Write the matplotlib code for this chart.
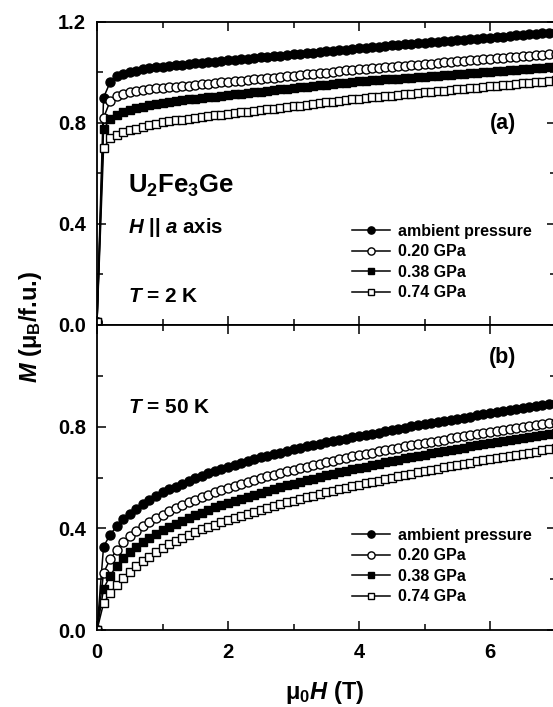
import matplotlib
matplotlib.use("Agg")
import matplotlib.pyplot as plt
import numpy as np

plt.rcParams['font.family'] = ['Liberation Sans', 'DejaVu Sans']
plt.rcParams['font.weight'] = 'bold'
plt.rcParams['mathtext.fontset'] = 'custom'
plt.rcParams['mathtext.rm'] = 'Liberation Sans:bold'
plt.rcParams['mathtext.bf'] = 'Liberation Sans:bold'
plt.rcParams['mathtext.it'] = 'Liberation Sans:italic:bold'

# magnetic field grid, 0 ... 7 T in 0.1 T steps
field = np.round(np.arange(71) * 0.1, 1)

labels = ['ambient pressure', '0.20 GPa', '0.38 GPa', '0.74 GPa']

# (a) T = 2 K
m2_amb = [0.010, 0.900, 0.960, 0.985, 0.993, 1.000, 1.006, 1.011, 1.015, 1.019, 1.022,
          1.025, 1.028, 1.030, 1.032, 1.035, 1.037, 1.040, 1.042, 1.044, 1.047,
          1.049, 1.052, 1.054, 1.057, 1.059, 1.061, 1.064, 1.066, 1.069, 1.071,
          1.073, 1.076, 1.078, 1.081, 1.083, 1.085, 1.088, 1.090, 1.093, 1.095,
          1.097, 1.099, 1.101, 1.104, 1.106, 1.108, 1.110, 1.112, 1.114, 1.116,
          1.118, 1.120, 1.122, 1.125, 1.127, 1.129, 1.131, 1.133, 1.135, 1.137,
          1.139, 1.141, 1.143, 1.146, 1.148, 1.150, 1.152, 1.154, 1.156, 1.158]
m2_020 = [0.010, 0.820, 0.885, 0.905, 0.915, 0.921, 0.926, 0.930, 0.933, 0.936, 0.939,
          0.941, 0.943, 0.945, 0.947, 0.950, 0.952, 0.955, 0.957, 0.960, 0.962,
          0.965, 0.967, 0.970, 0.972, 0.975, 0.977, 0.979, 0.982, 0.984, 0.987,
          0.989, 0.992, 0.994, 0.997, 0.999, 1.002, 1.004, 1.007, 1.009, 1.011,
          1.013, 1.016, 1.018, 1.020, 1.022, 1.024, 1.026, 1.028, 1.030, 1.032,
          1.034, 1.037, 1.039, 1.041, 1.043, 1.045, 1.047, 1.049, 1.051, 1.053,
          1.055, 1.058, 1.060, 1.062, 1.064, 1.066, 1.068, 1.070, 1.072, 1.074]
m2_038 = [0.010, 0.775, 0.815, 0.832, 0.843, 0.851, 0.858, 0.864, 0.869, 0.874, 0.879,
          0.883, 0.887, 0.891, 0.894, 0.896, 0.899, 0.902, 0.904, 0.907, 0.910,
          0.913, 0.915, 0.918, 0.921, 0.923, 0.926, 0.929, 0.932, 0.934, 0.937,
          0.940, 0.942, 0.945, 0.948, 0.950, 0.953, 0.956, 0.959, 0.961, 0.964,
          0.966, 0.968, 0.970, 0.972, 0.974, 0.975, 0.977, 0.979, 0.981, 0.983,
          0.985, 0.987, 0.989, 0.991, 0.993, 0.995, 0.996, 0.998, 1.000, 1.002,
          1.004, 1.006, 1.008, 1.010, 1.012, 1.014, 1.016, 1.017, 1.019, 1.021]
m2_074 = [0.010, 0.700, 0.738, 0.752, 0.762, 0.770, 0.777, 0.784, 0.790, 0.796, 0.802,
          0.806, 0.810, 0.813, 0.816, 0.819, 0.822, 0.825, 0.829, 0.832, 0.835,
          0.838, 0.841, 0.844, 0.847, 0.850, 0.853, 0.856, 0.859, 0.862, 0.865,
          0.868, 0.872, 0.875, 0.878, 0.881, 0.884, 0.887, 0.890, 0.893, 0.896,
          0.898, 0.901, 0.903, 0.906, 0.908, 0.910, 0.913, 0.915, 0.918, 0.920,
          0.922, 0.925, 0.927, 0.930, 0.932, 0.934, 0.937, 0.939, 0.942, 0.944,
          0.946, 0.949, 0.951, 0.954, 0.956, 0.958, 0.961, 0.963, 0.966, 0.968]

# (b) T = 50 K
m50_amb = [0.000, 0.328, 0.375, 0.408, 0.435, 0.457, 0.477, 0.495, 0.512, 0.527, 0.541,
           0.553, 0.564, 0.575, 0.586, 0.597, 0.607, 0.616, 0.625, 0.634, 0.643,
           0.650, 0.658, 0.665, 0.672, 0.679, 0.685, 0.692, 0.698, 0.705, 0.711,
           0.717, 0.722, 0.728, 0.733, 0.739, 0.744, 0.749, 0.753, 0.758, 0.763,
           0.768, 0.773, 0.777, 0.782, 0.787, 0.792, 0.796, 0.801, 0.805, 0.810,
           0.814, 0.819, 0.823, 0.828, 0.832, 0.836, 0.840, 0.845, 0.849, 0.853,
           0.857, 0.861, 0.865, 0.869, 0.873, 0.877, 0.881, 0.885, 0.889, 0.893]
m50_020 = [0.000, 0.225, 0.278, 0.314, 0.345, 0.369, 0.390, 0.408, 0.424, 0.440, 0.454,
           0.467, 0.479, 0.491, 0.502, 0.513, 0.523, 0.533, 0.542, 0.550, 0.559,
           0.567, 0.575, 0.583, 0.590, 0.597, 0.604, 0.611, 0.618, 0.624, 0.631,
           0.637, 0.643, 0.649, 0.655, 0.661, 0.666, 0.672, 0.677, 0.683, 0.688,
           0.693, 0.698, 0.703, 0.708, 0.713, 0.718, 0.722, 0.727, 0.731, 0.736,
           0.740, 0.745, 0.749, 0.754, 0.758, 0.762, 0.766, 0.771, 0.775, 0.779,
           0.783, 0.787, 0.791, 0.795, 0.799, 0.803, 0.807, 0.811, 0.814, 0.818]
m50_038 = [0.000, 0.162, 0.214, 0.252, 0.282, 0.306, 0.327, 0.346, 0.363, 0.378, 0.392,
           0.405, 0.417, 0.429, 0.441, 0.452, 0.462, 0.472, 0.482, 0.491, 0.500,
           0.508, 0.517, 0.525, 0.533, 0.540, 0.548, 0.555, 0.562, 0.569, 0.576,
           0.582, 0.589, 0.595, 0.602, 0.608, 0.614, 0.620, 0.626, 0.632, 0.638,
           0.643, 0.649, 0.654, 0.660, 0.665, 0.670, 0.675, 0.680, 0.685, 0.690,
           0.695, 0.699, 0.704, 0.709, 0.713, 0.717, 0.722, 0.726, 0.731, 0.735,
           0.739, 0.743, 0.748, 0.752, 0.756, 0.760, 0.764, 0.768, 0.772, 0.776]
m50_074 = [0.000, 0.105, 0.145, 0.177, 0.205, 0.229, 0.250, 0.270, 0.289, 0.307, 0.324,
           0.337, 0.350, 0.362, 0.374, 0.386, 0.396, 0.406, 0.415, 0.424, 0.433,
           0.441, 0.449, 0.457, 0.465, 0.473, 0.480, 0.488, 0.495, 0.502, 0.509,
           0.516, 0.522, 0.529, 0.535, 0.541, 0.547, 0.553, 0.559, 0.565, 0.571,
           0.577, 0.582, 0.588, 0.593, 0.599, 0.604, 0.609, 0.615, 0.620, 0.625,
           0.630, 0.635, 0.640, 0.644, 0.649, 0.654, 0.658, 0.663, 0.667, 0.672,
           0.676, 0.681, 0.685, 0.690, 0.694, 0.698, 0.702, 0.707, 0.711, 0.715]

styles = [dict(marker='o', mfc='black', ms=6.5),
          dict(marker='o', mfc='white', ms=6.5),
          dict(marker='s', mfc='black', ms=5.6),
          dict(marker='s', mfc='white', ms=5.6)]

fig = plt.figure(figsize=(5.53, 7.07), dpi=100)
W, H = 553.0, 707.0
left = 97 / W
width = 7.0 * 65.5 / W
ax_a = fig.add_axes([left, (H - 325) / H, width, (325 - 21.7) / H])
ax_b = fig.add_axes([left, (H - 630) / H, width, (630 - 325) / H])


def draw_panel(ax, series, legend_y):
    for vals, lab, st in zip(series, labels, styles):
        ax.plot(field, vals, color='black', lw=1.1, mec='black', mew=1.0,
                label=lab, **st)
    ax.set_xlim(0, 7.0)
    ax.set_ylim(0, 1.2)
    ax.set_xticks([0, 2, 4, 6])
    ax.set_xticks([1, 3, 5], minor=True)
    ax.set_yticks(np.arange(0, 1.21, 0.2), minor=True)
    ax.tick_params(which='both', direction='in', top=True, right=True,
                   width=1.1, labelsize=14.5)
    ax.tick_params(which='major', length=6.5)
    ax.tick_params(which='minor', length=4)
    ax.tick_params(axis='y', pad=8)
    ax.tick_params(axis='x', pad=9)
    for sp in ax.spines.values():
        sp.set_linewidth(1.3)
    leg = ax.legend(loc='center left', bbox_to_anchor=(352 / W, 1 - legend_y / H),
                    bbox_transform=fig.transFigure, frameon=False, fontsize=11.5,
                    handlelength=2.4, handletextpad=0.5, labelspacing=0.34,
                    borderpad=0, borderaxespad=0, numpoints=1, markerscale=0.8)
    for t in leg.get_texts():
        t.set_fontweight('bold')


draw_panel(ax_a, [m2_amb, m2_020, m2_038, m2_074], 262)
ax_a.set_yticks([0.0, 0.4, 0.8, 1.2])
ax_a.set_yticklabels(['0.0', '0.4', '0.8', '1.2'])
ax_a.tick_params(axis='x', labelbottom=False)

draw_panel(ax_b, [m50_amb, m50_020, m50_038, m50_074], 566)
ax_b.set_yticks([0.0, 0.4, 0.8])
ax_b.set_yticklabels(['0.0', '0.4', '0.8'])
ax_b.set_xticklabels(['0', '2', '4', '6'])
for t in ax_b.get_xticklabels() + ax_b.get_yticklabels() + ax_a.get_yticklabels():
    t.set_fontweight('bold')

# annotations
fig.text(128 / W, 1 - 193 / H, r'$\mathrm{U_2Fe_3Ge}$', fontsize=18.5, ha='left', va='baseline')
fig.text(128 / W, 1 - 233 / H, r'$H$ || $a$ axis', fontsize=14.7, ha='left', va='baseline',
         fontweight='bold')
fig.text(128 / W, 1 - 302 / H, r'$T$ = 2 K', fontsize=15, ha='left', va='baseline',
         fontweight='bold')
fig.text(503 / W, 1 - 124 / H, '(a)', fontsize=15.5, ha='center', va='center', fontweight='bold')
fig.text(128 / W, 1 - 413 / H, r'$T$ = 50 K', fontsize=15, ha='left', va='baseline',
         fontweight='bold')
fig.text(503 / W, 1 - 357 / H, '(b)', fontsize=15.5, ha='center', va='center', fontweight='bold')

fig.text(30 / W, 1 - 327 / H, r'$M$ (μ$_\mathrm{B}$/f.u.)', rotation=90, fontsize=17,
         ha='center', va='center', fontweight='bold')
fig.text(325 / W, 1 - 692 / H, r'μ$_\mathrm{0}$$H$ (T)', fontsize=17, ha='center',
         va='center', fontweight='bold')

fig.savefig('out.png', dpi=100)
